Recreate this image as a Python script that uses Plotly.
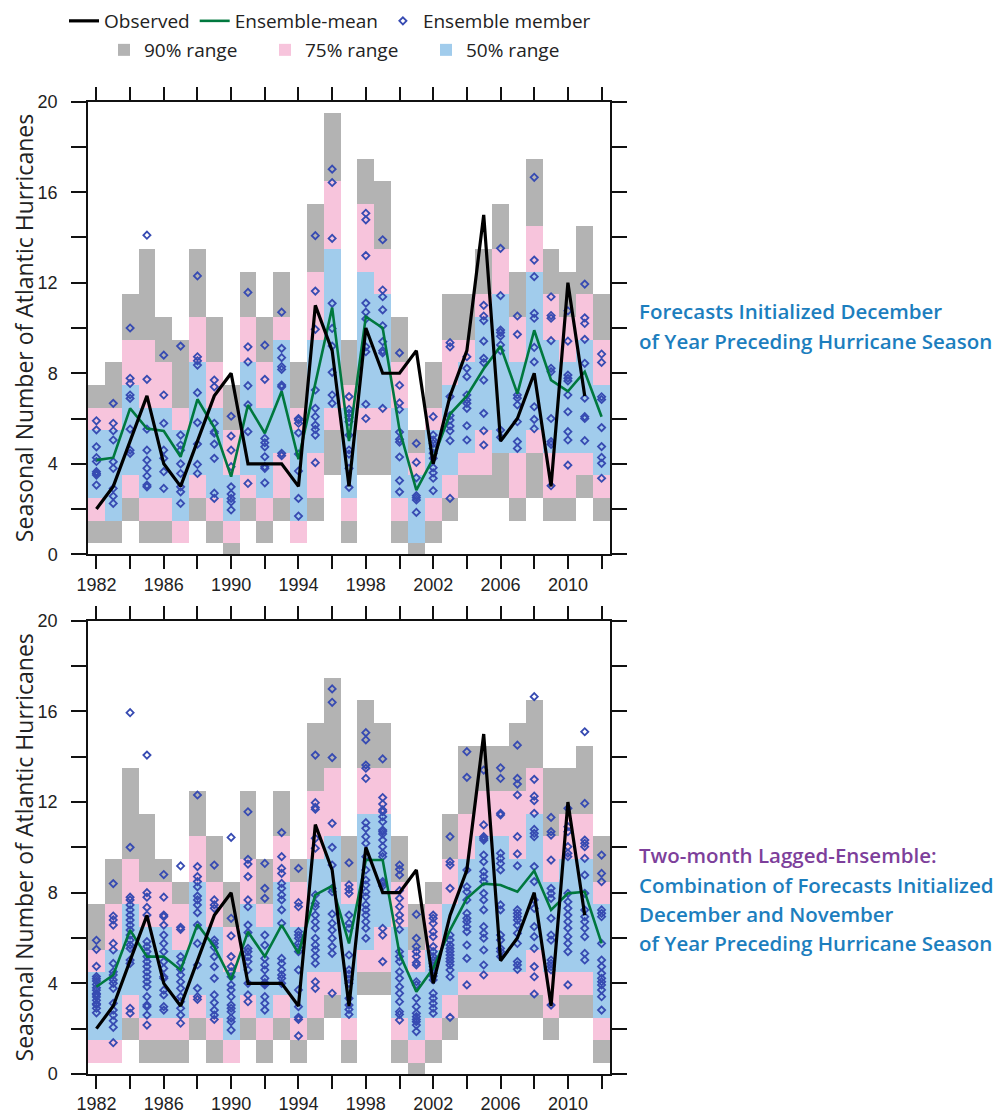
import plotly.graph_objects as go

years = list(range(1982, 2013))

# Observed hurricane counts (1982-2011); 2012 not shown
observed = [2, 3, 5, 7, 4, 3, 5, 7, 8, 4, 4, 4, 3, 11, 9, 3, 10, 8, 8, 9,
            4, 7, 9, 15, 5, 6, 8, 3, 12, 7, None]

# ---------------- Top panel: December-initialized forecasts ----------------
top_mean = [4.16, 4.27, 6.45, 5.56, 5.45, 4.31, 6.85, 5.6, 3.43, 6.6, 5.35, 7.2, 4.2, 7.55, 10.9,
            5.0, 10.5, 10.0, 5.5, 2.84, 4.24, 6.2, 7.0, 8.2, 9.2, 7.1, 9.9, 7.7, 7.2, 8.07, 6.08]
top_lo90 = [0.5, 0.5, 1.5, 0.5, 0.5, 0.5, 1.5, 0.5, -0.5, 1.5, 0.5, 1.5, 0.5, 1.5, 3.5,
            0.5, 3.5, 3.5, 0.5, -0.5, 0.5, 1.5, 2.5, 2.5, 2.5, 1.5, 2.5, 1.5, 1.5, 2.5, 1.5]
top_hi90 = [7.5, 8.5, 11.5, 13.5, 10.5, 9.5, 13.5, 10.5, 7.5, 12.5, 10.5, 12.5, 8.5, 15.5, 19.5,
            9.5, 17.5, 16.5, 10.5, 5.5, 8.5, 11.5, 11.5, 13.5, 15.5, 12.5, 17.5, 13.5, 12.5, 14.5, 11.5]
top_lo75 = [1.5, 1.5, 2.5, 1.5, 1.5, 0.5, 2.5, 1.5, 0.5, 2.5, 1.5, 2.5, 0.5, 2.5, 5.5,
            1.5, 5.5, 5.5, 1.5, 0.5, 1.5, 2.5, 3.5, 3.5, 4.5, 2.5, 4.5, 2.5, 2.5, 3.5, 2.5]
top_hi75 = [6.5, 6.5, 9.5, 9.5, 8.5, 6.5, 10.5, 8.5, 5.5, 10.5, 8.5, 10.5, 6.5, 12.5, 16.5,
            7.5, 15.5, 13.5, 8.5, 4.5, 6.5, 9.5, 9.5, 11.5, 13.5, 10.5, 14.5, 11.5, 10.5, 11.5, 9.5]
top_lo50 = [2.5, 1.5, 3.5, 2.5, 2.5, 1.5, 3.5, 2.5, 1.5, 3.5, 2.5, 4.5, 1.5, 4.5, 6.5,
            2.5, 6.5, 6.5, 2.5, 0.5, 2.5, 3.5, 4.5, 5.5, 4.5, 4.5, 5.5, 4.5, 4.5, 4.5, 3.5]
top_hi50 = [5.5, 5.5, 7.5, 6.5, 6.5, 5.5, 8.5, 6.5, 3.5, 8.5, 6.5, 9.5, 5.5, 9.5, 13.5,
            6.5, 12.5, 11.5, 6.5, 3.5, 5.5, 7.5, 8.5, 10.5, 11.5, 8.5, 12.5, 9.5, 8.5, 9.5, 7.5]
top_members = [
    [5.9, 5.5, 4.75, 4.27, 4.1, 3.65, 3.57, 3.5, 3.06],
    [6.67, 5.79, 5.46, 5.05, 4.09, 3.8, 2.91, 2.57, 2.25],
    [10.0, 7.78, 7.55, 7.04, 6.89, 5.53, 4.6, 4.46],
    [14.1, 7.73, 5.53, 4.6, 4.16, 3.8, 3.46, 3.06, 2.98],
    [8.8, 7.04, 5.79, 4.6, 4.24, 3.65, 2.91],
    [9.2, 5.27, 4.83, 4.6, 4.0, 3.57, 2.98, 2.76, 2.25],
    [12.3, 8.73, 8.55, 8.36, 7.14, 5.82, 4.87, 3.97, 3.57],
    [7.7, 7.4, 5.79, 5.42, 5.35, 4.87, 4.24, 2.7, 2.47],
    [6.1, 5.22, 4.6, 3.87, 2.98, 2.66, 2.47, 2.32, 1.96],
    [11.57, 9.17, 8.5, 7.45, 6.6, 5.42, 3.13],
    [9.24, 7.73, 5.12, 4.93, 4.75, 4.31, 3.87, 3.8, 3.16],
    [10.7, 9.1, 8.69, 8.29, 8.17, 7.48, 7.4, 4.46, 4.36],
    [6.0, 5.93, 5.79, 5.37, 4.43, 3.68, 2.47, 1.69],
    [14.08, 11.63, 9.94, 7.26, 6.45, 6.08, 5.71, 5.52, 5.27, 4.05],
    [17.02, 16.43, 13.96, 11.09, 9.98, 9.2, 8.04, 7.04, 6.67],
    [6.97, 6.41, 6.23, 6.04, 5.86, 5.27, 4.61, 4.43, 3.8, 2.96],
    [15.07, 14.78, 13.2, 11.1, 10.7, 10.4, 9.17, 8.95, 6.63, 6.0],
    [13.9, 11.68, 11.38, 10.8, 10.1, 9.4, 9.0, 8.9, 6.45],
    [8.9, 7.47, 6.69, 6.4, 5.4, 5.08, 4.96, 4.3, 3.26, 2.76],
    [4.9, 4.06, 3.38, 2.59, 2.5, 2.4, 1.85],
    [6.08, 5.27, 5.05, 4.9, 4.68, 4.46, 4.24, 3.83, 3.6, 3.36, 2.81],
    [9.35, 9.17, 6.97, 6.13, 5.93, 5.67, 5.45, 5.02, 2.47],
    [8.73, 8.22, 7.85, 7.04, 6.82, 6.67, 6.45, 5.68, 5.05],
    [11.0, 10.53, 10.33, 9.42, 8.66, 8.47, 7.7, 6.23, 5.46, 4.83],
    [13.52, 11.43, 9.91, 9.8, 9.64, 9.25, 9.0, 5.49, 5.17],
    [10.53, 9.72, 7.04, 6.9, 6.6, 5.86, 4.98, 4.68],
    [16.66, 13.0, 12.27, 10.65, 10.43, 9.14, 8.5, 6.52, 5.96, 5.55],
    [11.38, 10.55, 10.43, 9.44, 8.22, 8.07, 6.0, 4.98, 4.86, 3.03],
    [10.76, 9.42, 7.92, 7.78, 7.66, 7.04, 6.3, 5.42, 5.05, 3.94],
    [11.94, 10.45, 10.2, 9.5, 8.44, 6.9, 6.08, 6.0, 5.02],
    [8.85, 8.48, 6.96, 6.84, 5.6, 4.76, 4.28, 4.02, 3.36],
]

# ---------------- Bottom panel: two-month lagged ensemble ----------------
bot_mean = [3.85, 4.37, 6.35, 5.18, 5.18, 4.59, 6.6, 5.62, 4.15, 6.28, 5.18, 6.57, 5.32, 7.9, 8.3,
            5.76, 9.44, 9.44, 5.3, 3.63, 4.66, 6.35, 7.75, 8.4, 8.34, 8.04, 8.97, 7.24, 7.97, 8.04, 5.76]
bot_lo90 = [0.5, 0.5, 1.5, 0.5, 0.5, 0.5, 1.5, 0.5, 0.5, 1.5, 0.5, 1.5, 0.5, 1.5, 2.5,
            0.5, 3.5, 3.5, 0.5, -0.5, 0.5, 1.5, 2.5, 2.5, 2.5, 2.5, 2.5, 1.5, 2.5, 2.5, 0.5]
bot_hi90 = [7.5, 9.5, 13.5, 11.5, 9.5, 8.5, 12.5, 10.5, 8.5, 12.5, 9.5, 12.5, 9.5, 15.5, 17.5,
            10.5, 16.5, 15.5, 10.5, 7.5, 8.5, 11.5, 14.5, 14.5, 14.5, 15.5, 16.5, 13.5, 13.5, 14.5, 10.5]
bot_lo75 = [0.5, 0.5, 2.5, 1.5, 1.5, 1.5, 2.5, 1.5, 0.5, 2.5, 1.5, 2.5, 1.5, 2.5, 3.5,
            1.5, 4.5, 4.5, 1.5, 0.5, 1.5, 2.5, 3.5, 3.5, 3.5, 3.5, 3.5, 2.5, 3.5, 3.5, 1.5]
bot_hi75 = [5.5, 7.5, 9.5, 8.5, 8.5, 7.5, 10.5, 8.5, 6.5, 9.5, 7.5, 10.5, 8.5, 12.5, 13.5,
            8.5, 13.5, 13.5, 8.5, 5.5, 7.5, 9.5, 11.5, 12.5, 12.5, 12.5, 13.5, 10.5, 11.5, 11.5, 8.5]
bot_lo50 = [1.5, 1.5, 3.5, 2.5, 2.5, 2.5, 3.5, 2.5, 1.5, 3.5, 2.5, 3.5, 2.5, 4.5, 4.5,
            2.5, 5.5, 6.5, 2.5, 1.5, 2.5, 3.5, 4.5, 4.5, 4.5, 4.5, 5.5, 4.5, 4.5, 4.5, 2.5]
bot_hi50 = [4.5, 5.5, 7.5, 6.5, 6.5, 5.5, 8.5, 6.5, 4.5, 7.5, 6.5, 8.5, 6.5, 9.5, 10.5,
            7.5, 11.5, 11.5, 6.5, 4.5, 5.5, 7.5, 9.5, 10.5, 10.5, 9.5, 11.5, 8.5, 9.5, 9.5, 7.5]
bot_members = [
    [5.9, 5.5, 4.75, 4.3, 4.2, 4.1, 3.95, 3.8, 3.7, 3.55, 3.5, 3.4, 3.25, 3.1, 3.05, 2.9, 2.7],
    [8.4, 6.97, 6.8, 6.57, 5.76, 5.47, 4.88, 4.51, 4.37, 4.15, 4.0, 3.78, 3.12, 2.82, 2.6, 2.35, 2.06, 1.38],
    [15.94, 10.0, 7.8, 7.68, 7.46, 7.24, 7.01, 6.79, 6.57, 6.35, 6.13, 5.91, 5.69, 5.54, 5.03, 4.88, 2.9, 2.68],
    [14.07, 8.0, 7.8, 7.35, 7.01, 5.84, 5.62, 5.4, 5.18, 4.96, 4.74, 4.51, 4.29, 4.07, 3.85, 3.41, 3.04, 2.97, 2.6, 2.16],
    [8.8, 7.8, 7.01, 6.94, 6.57, 6.13, 5.76, 5.4, 4.96, 4.66, 4.29, 4.22, 3.7, 3.49, 2.97, 2.82],
    [9.18, 6.47, 6.38, 5.18, 4.91, 4.62, 4.37, 4.07, 3.78, 3.41, 3.19, 2.9, 2.6, 2.24],
    [12.31, 9.15, 8.71, 8.49, 8.26, 7.85, 7.68, 7.46, 7.12, 6.57, 5.76, 4.81, 3.78, 3.41, 3.29],
    [9.22, 7.68, 7.46, 7.31, 5.91, 5.76, 5.59, 5.18, 4.74, 4.22, 3.49, 3.15, 2.82, 2.6, 2.41],
    [10.44, 6.87, 6.09, 5.18, 4.74, 4.51, 4.29, 3.93, 3.71, 3.41, 3.04, 2.9, 2.75, 2.46, 2.31, 1.94],
    [11.57, 9.47, 9.26, 8.71, 7.68, 7.38, 6.57, 6.24, 5.54, 5.4, 5.18, 4.96, 4.59, 4.0, 3.49, 3.19],
    [9.29, 8.19, 7.75, 6.13, 5.69, 5.1, 4.81, 4.59, 4.22, 4.03, 3.97, 3.93, 3.41, 3.12, 2.82],
    [10.65, 9.59, 9.07, 8.85, 8.41, 8.19, 7.9, 7.68, 7.24, 6.65, 5.1, 4.88, 4.59, 4.37, 4.22, 4.0],
    [9.07, 7.56, 7.38, 6.28, 6.13, 5.99, 5.76, 5.59, 5.4, 4.59, 3.71, 2.97, 2.5, 2.41, 1.68],
    [14.07, 11.97, 11.76, 11.68, 10.4, 9.96, 7.9, 7.53, 7.38, 7.01, 6.72, 6.43, 5.99, 5.69, 5.47, 5.18, 4.88, 4.07, 3.78],
    [16.99, 16.4, 13.96, 11.06, 10.0, 9.22, 8.19, 8.04, 7.06, 6.65, 6.35, 5.99, 5.62, 5.32, 3.56],
    [9.32, 8.34, 8.15, 7.97, 7.01, 6.65, 6.43, 5.25, 4.59, 4.41, 4.18, 4.0, 3.34, 3.04, 2.85, 2.63],
    [15.06, 14.74, 13.63, 13.49, 13.04, 11.09, 10.84, 10.47, 10.18, 9.59, 9.0, 8.56, 8.34, 8.04, 7.82, 7.46, 7.24, 7.01, 6.72, 6.43, 5.99],
    [13.9, 12.2, 11.91, 11.65, 11.57, 11.35, 11.13, 10.76, 10.69, 10.59, 10.32, 10.03, 9.74, 9.59, 8.49, 8.41, 8.29, 6.43, 6.13, 4.96],
    [9.22, 9.03, 8.78, 8.09, 7.75, 7.38, 7.01, 6.76, 6.38, 5.4, 5.18, 4.96, 4.51, 4.22, 3.85, 3.56, 3.19, 2.75, 2.63, 2.38],
    [7.04, 5.99, 5.62, 5.4, 5.18, 4.91, 4.81, 4.07, 3.93, 3.34, 2.97, 2.68, 2.53, 2.41, 2.31, 2.16, 1.87],
    [7.01, 6.87, 6.65, 6.28, 6.06, 5.62, 5.4, 5.18, 5.03, 4.88, 4.74, 4.59, 4.44, 4.32, 4.15, 3.56, 3.34, 3.12, 2.9, 2.68],
    [10.47, 9.37, 9.22, 8.19, 6.13, 5.91, 5.69, 5.54, 5.4, 5.25, 5.1, 4.96, 4.81, 4.59, 4.29, 2.5],
    [14.22, 13.09, 9.0, 8.26, 8.04, 7.68, 7.09, 6.87, 6.72, 6.5, 6.28, 5.69, 5.1, 3.93],
    [13.41, 10.99, 10.47, 10.4, 10.32, 9.66, 9.37, 8.93, 8.71, 8.49, 7.97, 7.68, 7.24, 6.5, 6.21, 5.99, 5.47, 4.81, 4.37],
    [13.51, 13.04, 11.5, 11.43, 9.74, 9.51, 9.29, 9.0, 7.46, 7.24, 6.13, 5.91, 5.54, 5.4, 5.18],
    [14.51, 13.04, 12.79, 12.31, 10.47, 9.71, 9.18, 7.24, 7.09, 6.94, 6.79, 6.57, 6.21, 5.76, 4.96, 4.81, 4.62],
    [16.65, 13.0, 12.26, 12.06, 11.5, 10.79, 10.62, 10.47, 9.15, 8.49, 7.68, 7.31, 6.5, 6.06, 5.54, 4.74, 4.29, 3.53],
    [11.32, 10.69, 10.54, 9.44, 8.19, 7.97, 7.75, 6.87, 6.13, 5.91, 5.03, 4.88, 4.74, 4.59, 3.04],
    [11.72, 10.91, 10.69, 10.03, 9.74, 9.59, 7.97, 7.6, 7.31, 7.01, 6.72, 6.43, 6.06, 5.76, 5.4, 3.93],
    [15.1, 11.94, 10.32, 10.18, 10.03, 9.51, 8.78, 7.97, 7.24, 6.94, 6.72, 6.43, 6.06, 5.32, 5.03],
    [9.66, 8.85, 8.49, 7.24, 7.09, 6.94, 5.76, 5.03, 4.74, 4.44, 4.22, 4.07, 3.93, 3.71, 3.41, 2.82],
]

x_tickvals = list(range(1982, 2013, 2))
x_ticktext = [str(v) if (v - 1982) % 4 == 0 else "" for v in x_tickvals]
y_tickvals = list(range(0, 21, 2))
y_ticktext = [str(v) if v % 4 == 0 else "" for v in y_tickvals]

GRAY = "rgb(179,179,179)"
PINK = "rgb(247,196,220)"
BLUE = "rgb(161,204,236)"
DOT = "rgb(55,75,178)"
GREEN = "rgb(0,120,62)"

fig = go.Figure()


def add_panel(xa, ya, ranges, mean, members, show):
    for (lo, hi), color, name in zip(ranges, [GRAY, PINK, BLUE],
                                     ["90% range", "75% range", "50% range"]):
        fig.add_trace(go.Bar(
            x=years, y=[h - l for l, h in zip(lo, hi)], base=lo, width=1,
            marker=dict(color=color, line=dict(width=0)), name=name,
            showlegend=show, legend="legend2", xaxis=xa, yaxis=ya, hoverinfo="skip"))
    mx = [yr for yr, vals in zip(years, members) for _ in vals]
    my = [v for vals in members for v in vals]
    fig.add_trace(go.Scatter(
        x=mx, y=my, mode="markers", name="Ensemble member", legendrank=3,
        marker=dict(symbol="diamond-open", size=5.5, color=DOT, line=dict(width=1.8, color=DOT)),
        showlegend=show, xaxis=xa, yaxis=ya))
    fig.add_trace(go.Scatter(
        x=years, y=mean, mode="lines", name="Ensemble-mean", legendrank=2,
        line=dict(color=GREEN, width=2.6), showlegend=show, xaxis=xa, yaxis=ya))
    fig.add_trace(go.Scatter(
        x=years, y=observed, mode="lines", name="Observed", legendrank=1,
        line=dict(color="black", width=3.2), showlegend=show, xaxis=xa, yaxis=ya))


add_panel("x", "y", [(top_lo90, top_hi90), (top_lo75, top_hi75), (top_lo50, top_hi50)],
          top_mean, top_members, True)
add_panel("x2", "y2", [(bot_lo90, bot_hi90), (bot_lo75, bot_hi75), (bot_lo50, bot_hi50)],
          bot_mean, bot_members, False)

tickfont = dict(family="Liberation Sans, Arial, sans-serif", size=18, color="#222")
ytitle = dict(text="Seasonal Number of Atlantic Hurricanes",
              font=dict(family="Open Sans, sans-serif", size=23, color="#222"), standoff=16)
common_x = dict(range=[1981.5, 2012.5], tickvals=x_tickvals, ticktext=x_ticktext,
                ticks="outside", ticklen=13, tickwidth=1.5, tickcolor="#111",
                showline=True, linecolor="#111", linewidth=1.5, mirror="ticks",
                showgrid=False, zeroline=False, tickfont=tickfont, domain=[0, 1])
common_y = dict(range=[0, 20], tickvals=y_tickvals, ticktext=y_ticktext,
                ticks="outside", ticklen=15, tickwidth=1.5, tickcolor="#111",
                showline=True, linecolor="#111", linewidth=1.5, mirror="ticks",
                showgrid=False, zeroline=False, tickfont=tickfont, title=ytitle,
                ticklabelstandoff=10)

# The page adds an 8 px body margin, so the figure is laid out 8 px smaller
# and all target positions (screen pixels) are converted through OFF.
OFF = 8
W, H = 1007 - OFF, 1116 - OFF
PLOT_L, PLOT_R, TOP = 88, 610, 80          # screen pixels
L, R, T = PLOT_L - OFF, W - (PLOT_R - OFF), TOP - OFF
pw = PLOT_R - PLOT_L
ph = H - T


def px(sx):
    return (sx - PLOT_L) / pw


def py(sy):
    return 1 - (sy - TOP) / ph


legend_font = dict(family="Open Sans, sans-serif", size=19, color="#222")
fig.update_layout(
    width=W, height=H,
    margin=dict(l=L, r=R, t=T, b=0, autoexpand=False),
    paper_bgcolor="white", plot_bgcolor="white",
    barmode="overlay", bargap=0,
    xaxis=dict(common_x, anchor="y"),
    yaxis=dict(common_y, anchor="x", domain=[py(554.3), py(101.7)]),
    xaxis2=dict(common_x, anchor="y2"),
    yaxis2=dict(common_y, anchor="x2", domain=[py(1074), py(620.7)]),
    legend=dict(orientation="h", x=px(64), y=py(21), xanchor="left", yanchor="middle",
                font=legend_font, bgcolor="rgba(0,0,0,0)", traceorder="normal"),
    legend2=dict(orientation="h", x=px(104), y=py(50), xanchor="left", yanchor="middle",
                 font=legend_font, bgcolor="rgba(0,0,0,0)",
                 entrywidth=116, entrywidthmode="pixels", traceorder="normal"),
    showlegend=True,
)

BLUE_TXT = "rgb(28,126,190)"
PURPLE_TXT = "rgb(125,63,155)"
notes = [
    ("Forecasts Initialized December", 311, BLUE_TXT),
    ("of Year Preceding Hurricane Season", 341, BLUE_TXT),
    ("Two-month Lagged-Ensemble:", 855, PURPLE_TXT),
    ("Combination of Forecasts Initialized", 885, BLUE_TXT),
    ("December and November", 914, BLUE_TXT),
    ("of Year Preceding Hurricane Season", 943, BLUE_TXT),
]
for text, sy, col in notes:
    fig.add_annotation(text=text, xref="paper", yref="paper", x=px(637), y=py(sy),
                       xanchor="left", yanchor="middle", showarrow=False,
                       font=dict(family="Open Sans, sans-serif", size=20.5, color=col, weight=600))

fig.write_html("out.html")
